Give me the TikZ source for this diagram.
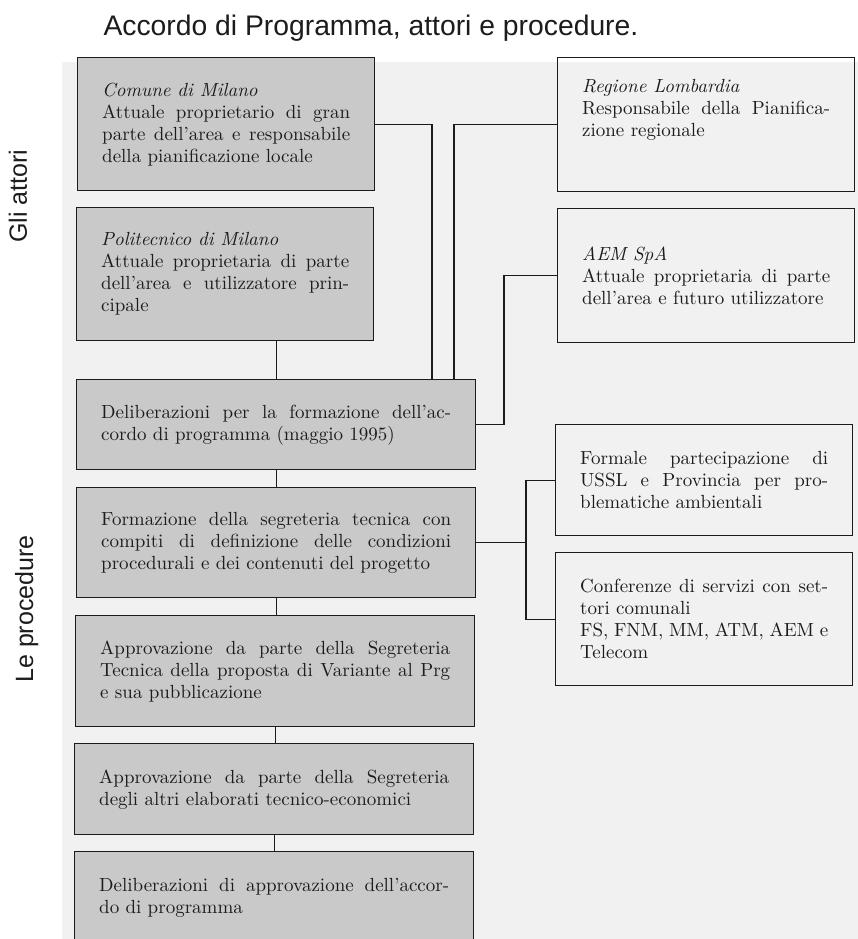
\documentclass[tikz,border=0pt]{standalone}
\usepackage{fontspec}
\newfontfamily\sansf{Liberation Sans}
\newfontfamily\boxf{lmroman10-regular}[Extension=.otf, Ligatures=TeX, ItalicFont=lmroman10-italic]
\definecolor{boxgray}{RGB}{201,201,201}
\definecolor{scanbg}{RGB}{241,241,241}
\definecolor{ink}{RGB}{28,28,28}
\newcommand\jn[1]{\makebox[248pt][s]{#1}}
\newcommand\jw[1]{\makebox[350pt][s]{#1}}
\begin{document}
\begin{tikzpicture}[x=1pt,y=-1pt,
  basebox/.style={draw=ink, line width=1.4pt, inner sep=0pt, anchor=north west,
    align=flush left, text=ink, font=\boxf\fontsize{19}{22}\selectfont},
  gbox/.style={basebox, fill=boxgray},
  wbox/.style={basebox},
  narrow/.style={minimum width=297pt, text width=248pt},
  wide/.style={minimum width=399pt, text width=350pt},
  conn/.style={draw=ink, line width=1.1pt},
  side/.style={font=\sansf\fontsize{25}{28}\selectfont, rotate=90, anchor=base, text=ink}]
\useasboundingbox (0,0) rectangle (858,939);
\clip (0,0) rectangle (858,939);
\fill[white] (0,0) rectangle (858,939);
\fill[scanbg] (62,62) rectangle (858,939);

% title and side labels
\node[font=\sansf\fontsize{28.3}{32}\selectfont, anchor=base west, text=ink] (title) at (100,36)
  {Accordo di Programma, attori e procedure.};
\node[side] (attori) at (27,196) {Gli attori};
\node[side] (proc) at (33,609) {Le procedure};

% actors (left)
\node[gbox, narrow, minimum height=133pt] (com) at (77,57)
  {\textit{Comune di Milano}\\ \jn{Attuale proprietario di gran}\\ \jn{parte dell'area e responsabile}\\ della pianificazione locale};
\node[gbox, narrow, minimum height=133pt] (pol) at (76,207)
  {\textit{Politecnico di Milano}\\ \jn{Attuale proprietaria di parte}\\ \jn{dell'area e utilizzatore prin-}\\ cipale};

% actors (right)
\node[wbox, narrow, minimum height=134pt] (reg) at (557,57)
  {\textit{Regione Lombardia}\\ \jn{Responsabile della Pianifica-}\\ zione regionale\\[12pt]\mbox{}};
\node[wbox, narrow, minimum height=134pt] (aem) at (557,208)
  {\textit{AEM SpA}\\ \jn{Attuale proprietaria di parte}\\ dell'area e futuro utilizzatore};

% procedures
\node[gbox, wide, minimum height=90pt] (del) at (76,379)
  {\jw{Deliberazioni per la formazione dell'ac-}\\ cordo di programma (maggio 1995)};
\node[gbox, wide, minimum height=110pt] (form) at (76,487)
  {\jw{Formazione della segreteria tecnica con}\\ \jw{compiti di definizione delle condizioni}\\ procedurali e dei contenuti del progetto};
\node[gbox, wide, minimum height=111pt] (app1) at (75,615)
  {\jw{Approvazione da parte della Segreteria}\\ \jw{Tecnica della proposta di Variante al Prg}\\ e sua pubblicazione};
\node[gbox, wide, minimum height=91pt] (app2) at (74,743)
  {\jw{Approvazione da parte della Segreteria}\\ degli altri elaborati tecnico-economici};
\node[gbox, wide, minimum height=92pt] (fin) at (74,851)
  {\jw{Deliberazioni di approvazione dell'accor-}\\ do di programma};

% participants (right)
\node[wbox, narrow, minimum height=111pt] (fml) at (555,424)
  {\jn{Formale partecipazione di}\\ \jn{USSL e Provincia per pro-}\\ blematiche ambientali};
\node[wbox, narrow, minimum height=133pt] (conf) at (555,552)
  {\jn{Conferenze di servizi con set-}\\ tori comunali\\ \jn{FS, FNM, MM, ATM, AEM e}\\ Telecom};

% helper coordinates for vertical runs
\coordinate (vx1) at (432,0);
\coordinate (vx2) at (454,0);
\coordinate (vx3) at (504,0);
\coordinate (vx4) at (526,0);

% connectors
\draw[conn] (com.east) -| (del.north -| vx1);
\draw[conn] (reg.west) -| (del.north -| vx2);
\draw[conn] (aem.west) -| (del.east -| vx3) -- (del.east);
\draw[conn] (del.north) -- (del.north |- pol.south);
\draw[conn] (del.south) -- (del.south |- form.north);
\draw[conn] (form.south) -- (form.south |- app1.north);
\draw[conn] (app1.south) -- (app1.south |- app2.north);
\draw[conn] (app2.south) -- (app2.south |- fin.north);
\draw[conn] (form.east) -- (form.east -| vx4);
\draw[conn] (fml.west) -| (conf.west -| vx4) -- (conf.west);
\end{tikzpicture}
\end{document}
